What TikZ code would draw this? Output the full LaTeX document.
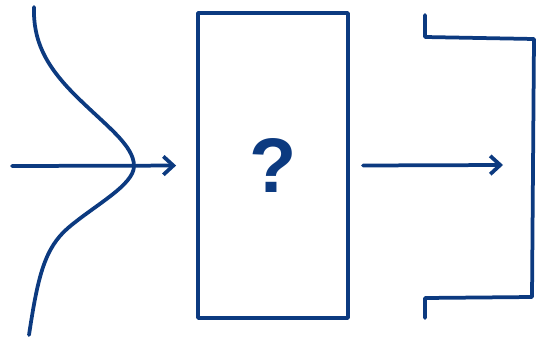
\documentclass[tikz,border=0pt]{standalone}
\usepackage{fontspec}
\setsansfont{Liberation Sans}
\usetikzlibrary{arrows.meta,positioning}
\definecolor{inkblue}{RGB}{12,58,128}
\begin{document}
\begin{tikzpicture}[
        x=0.03cm, y=-0.03cm,
        ink/.style={draw=inkblue, line width=3.2pt, line cap=round, line join=round},
        blackbox/.style={ink, rectangle, minimum width=4.5cm, minimum height=9.15cm, inner sep=0pt, text=inkblue, font=\sffamily\bfseries\fontsize{66}{66}\selectfont},
        arrow/.style={ink, -{Straight Barb[length=3mm, width=5.5mm, line width=3.2pt]}}
    ]
        \useasboundingbox (0,0) rectangle (539,340);

        \node[blackbox] (model) at (273,165.5) {?};
        \coordinate (in) at (12,166);
        \coordinate (peak) at (134,166);
        \coordinate (out) at (503,165);

        % gaussian input
        \draw[ink] (34,7) .. controls (33,40) and (45,65) .. (75,95)
            .. controls (105,125) and (134,145) .. (peak)
            .. controls (134,185) and (95,205) .. (68,228)
            .. controls (45,248) and (38,275) .. (29,335);

        % uniform output
        \draw[ink] (425,15) -- (425,37) -- (534,39) -- (532,297) -- (425,298) -- (425,318);

        \draw[arrow, shorten >=0.6cm] (in) -- (model.west);
        \draw[arrow] (model.east) ++(13,0) coordinate (modelout) -- (out);
    \end{tikzpicture}
\end{document}
